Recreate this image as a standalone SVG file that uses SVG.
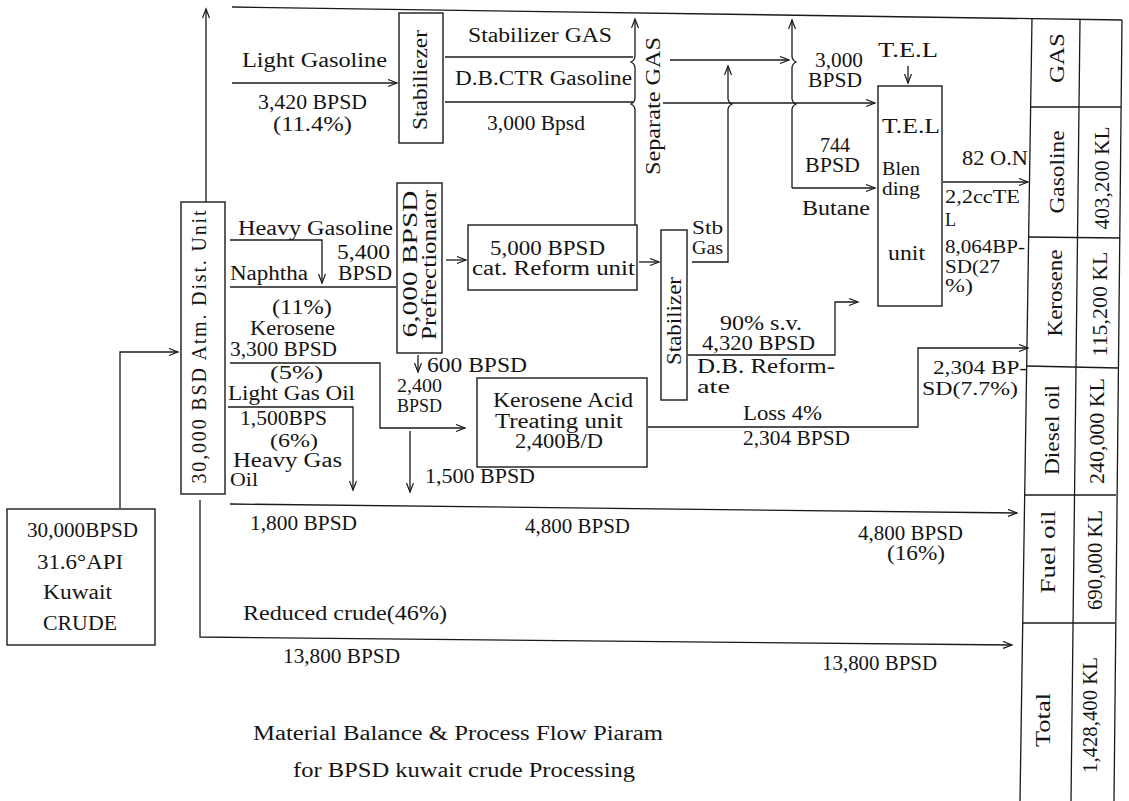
<svg xmlns="http://www.w3.org/2000/svg" width="1129" height="801" viewBox="0 0 1129 801">
<style>
text{font-family:"Liberation Serif","Times New Roman",serif;font-size:20px;fill:#151515}
.c{fill:none;stroke:#1a1a1a;stroke-width:1.3}
.a{marker-end:url(#ah)}
.b{fill:none;stroke:#1a1a1a;stroke-width:1.4}
.r{text-anchor:middle}
.s{font-size:18px}
</style>
<defs>
<marker id="ah" markerWidth="12" markerHeight="10" refX="10" refY="4" orient="auto" markerUnits="userSpaceOnUse">
<path d="M1,0.5 L10,4 L1,7.5" fill="none" stroke="#1a1a1a" stroke-width="1.2"/>
</marker>
</defs>
<rect width="1129" height="801" fill="#fff"/>

<g id="connectors">
<line class="c" x1="232" y1="7" x2="1122" y2="20"/>
<path class="c a" d="M206,202 L206,9"/>
<path class="c a" d="M120,508 L120,352 L178,352"/>
<path class="c a" d="M232,83 L397,83"/>
<path class="c" d="M445,57 L633,57"/>
<path class="c" d="M445,102 L633,102"/>
<path class="c a" d="M635,225 L635,110 q0,-4 -4,-6 q4,-2 4,-6 L635,68 q0,-4 -4,-6 q4,-2 4,-6 L635,19"/>
<path class="c a" d="M670,60 L789,60"/>
<path class="c a" d="M663,103 L875,103"/>
<path class="c a" d="M692,262 L728,262 L728,110 q0,-4 4,-6 q-4,-2 -4,-6 L728,66"/>
<path class="c a" d="M792,188 L792,110 q0,-4 4,-6 q-4,-2 -4,-6 L792,68 q0,-4 4,-6 q-4,-2 -4,-6 L792,20"/>
<path class="c a" d="M792,188 L875,188"/>
<path class="c a" d="M908,66 L908,83"/>
<path class="c a" d="M943,182 L1028,182"/>
<path class="c a" d="M230,240 L322,240 L322,283"/>
<path class="c" d="M230,287 L396,287"/>
<path class="c a" d="M446,260 L466,260"/>
<path class="c a" d="M639,262 L659,262"/>
<path class="c a" d="M688,355 L835,355 L835,302 L858,302"/>
<path class="c a" d="M230,363 L380,363 L380,428 L465,428"/>
<path class="c a" d="M418,355 L418,372"/>
<path class="c a" d="M410,431 L410,492"/>
<path class="c a" d="M228,407 L353,407 L353,490"/>
<path class="c a" d="M648,427 L918,427 L918,348 L1028,348"/>
<path class="c a" d="M230,504 L1017,513"/>
<path class="c a" d="M200,500 L200,637 L1012,645"/>
</g>

<g id="labels">
<text x="242" y="67" textLength="145" lengthAdjust="spacingAndGlyphs">Light Gasoline</text>
<text x="258" y="109" textLength="109" lengthAdjust="spacingAndGlyphs">3,420 BPSD</text>
<text x="273" y="131" textLength="79" lengthAdjust="spacingAndGlyphs">(11.4%)</text>
<text x="468" y="42" textLength="144" lengthAdjust="spacingAndGlyphs">Stabilizer GAS</text>
<text x="455" y="85" textLength="177" lengthAdjust="spacingAndGlyphs">D.B.CTR Gasoline</text>
<text x="487" y="130" textLength="98" lengthAdjust="spacingAndGlyphs">3,000 Bpsd</text>
<text class="r" transform="translate(653,106) rotate(-90)" dy="0.35em" textLength="138" lengthAdjust="spacingAndGlyphs">Separate GAS</text>
<text x="815" y="67" textLength="48" lengthAdjust="spacingAndGlyphs">3,000</text>
<text x="808" y="87" textLength="54" lengthAdjust="spacingAndGlyphs">BPSD</text>
<text x="878" y="57" textLength="60" lengthAdjust="spacingAndGlyphs">T.E.L</text>
<text x="820" y="152" textLength="30" lengthAdjust="spacingAndGlyphs">744</text>
<text x="805" y="172" textLength="55" lengthAdjust="spacingAndGlyphs">BPSD</text>
<text x="802" y="215" textLength="68" lengthAdjust="spacingAndGlyphs">Butane</text>
<text x="962" y="165" textLength="66" lengthAdjust="spacingAndGlyphs">82 O.N</text>
<text class="s" x="945" y="203" textLength="75" lengthAdjust="spacingAndGlyphs">2,2ccTE</text>
<text class="s" x="945" y="226">L</text>
<text class="s" x="945" y="253" textLength="80" lengthAdjust="spacingAndGlyphs">8,064BP-</text>
<text class="s" x="945" y="273" textLength="55" lengthAdjust="spacingAndGlyphs">SD(27</text>
<text class="s" x="945" y="292" textLength="28" lengthAdjust="spacingAndGlyphs">%)</text>
<text x="238" y="235" textLength="155" lengthAdjust="spacingAndGlyphs">Heavy Gasoline</text>
<text x="230" y="280" textLength="78" lengthAdjust="spacingAndGlyphs">Naphtha</text>
<text x="337" y="259" textLength="53" lengthAdjust="spacingAndGlyphs">5,400</text>
<text x="338" y="280" textLength="54" lengthAdjust="spacingAndGlyphs">BPSD</text>
<text x="272" y="314" textLength="60" lengthAdjust="spacingAndGlyphs">(11%)</text>
<text x="250" y="335" textLength="85" lengthAdjust="spacingAndGlyphs">Kerosene</text>
<text x="230" y="356" textLength="107" lengthAdjust="spacingAndGlyphs">3,300 BPSD</text>
<text class="s" x="270" y="379" textLength="53" lengthAdjust="spacingAndGlyphs">(5%)</text>
<text x="228" y="400" textLength="127" lengthAdjust="spacingAndGlyphs">Light Gas Oil</text>
<text x="240" y="425" textLength="87" lengthAdjust="spacingAndGlyphs">1,500BPS</text>
<text class="s" x="270" y="447" textLength="48" lengthAdjust="spacingAndGlyphs">(6%)</text>
<text x="233" y="467" textLength="109" lengthAdjust="spacingAndGlyphs">Heavy Gas</text>
<text class="s" x="230" y="486" textLength="28" lengthAdjust="spacingAndGlyphs">Oil</text>
<text x="427" y="372" textLength="100" lengthAdjust="spacingAndGlyphs">600 BPSD</text>
<text class="s" x="397" y="392" textLength="45" lengthAdjust="spacingAndGlyphs">2,400</text>
<text class="s" x="397" y="412" textLength="45" lengthAdjust="spacingAndGlyphs">BPSD</text>
<text x="425" y="483" textLength="110" lengthAdjust="spacingAndGlyphs">1,500 BPSD</text>
<text class="s" x="692" y="234" textLength="31" lengthAdjust="spacingAndGlyphs">Stb</text>
<text class="s" x="692" y="254" textLength="31" lengthAdjust="spacingAndGlyphs">Gas</text>
<text x="720" y="330" textLength="82" lengthAdjust="spacingAndGlyphs">90% s.v.</text>
<text x="702" y="350" textLength="113" lengthAdjust="spacingAndGlyphs">4,320 BPSD</text>
<text x="697" y="373" textLength="138" lengthAdjust="spacingAndGlyphs">D.B. Reform-</text>
<text class="s" x="697" y="393" textLength="33" lengthAdjust="spacingAndGlyphs">ate</text>
<text x="743" y="420" textLength="79" lengthAdjust="spacingAndGlyphs">Loss 4%</text>
<text x="743" y="445" textLength="107" lengthAdjust="spacingAndGlyphs">2,304 BPSD</text>
<text class="s" x="933" y="374" textLength="94" lengthAdjust="spacingAndGlyphs">2,304 BP-</text>
<text class="s" x="922" y="395" textLength="96" lengthAdjust="spacingAndGlyphs">SD(7.7%)</text>
<text x="250" y="530" textLength="107" lengthAdjust="spacingAndGlyphs">1,800 BPSD</text>
<text x="525" y="533" textLength="105" lengthAdjust="spacingAndGlyphs">4,800 BPSD</text>
<text x="858" y="540" textLength="105" lengthAdjust="spacingAndGlyphs">4,800 BPSD</text>
<text x="887" y="560" textLength="58" lengthAdjust="spacingAndGlyphs">(16%)</text>
<text x="243" y="620" textLength="204" lengthAdjust="spacingAndGlyphs">Reduced crude(46%)</text>
<text x="283" y="663" textLength="117" lengthAdjust="spacingAndGlyphs">13,800 BPSD</text>
<text x="822" y="670" textLength="115" lengthAdjust="spacingAndGlyphs">13,800 BPSD</text>
<text x="253" y="740" font-size="21" textLength="410" lengthAdjust="spacingAndGlyphs">Material Balance &amp; Process Flow Piaram</text>
<text x="293" y="777" font-size="21" textLength="342" lengthAdjust="spacingAndGlyphs">for BPSD kuwait crude Processing</text>
</g>

<g id="crude">
<rect class="b" x="7" y="509" width="148" height="136"/>
<text x="27" y="537" font-size="21" textLength="111" lengthAdjust="spacingAndGlyphs">30,000BPSD</text>
<text x="37" y="569" font-size="21" textLength="86" lengthAdjust="spacingAndGlyphs">31.6°API</text>
<text x="43" y="599" font-size="21" textLength="69" lengthAdjust="spacingAndGlyphs">Kuwait</text>
<text x="43" y="630" font-size="21" textLength="74" lengthAdjust="spacingAndGlyphs">CRUDE</text>
</g>

<g id="atm-dist-unit">
<rect class="b" x="181" y="202" width="44" height="292"/>
<text class="r" transform="translate(199,347) rotate(-90)" dy="0.35em" font-size="21" textLength="273" lengthAdjust="spacing">30,000 BSD Atm. Dist. Unit</text>
</g>

<g id="stabiliezer">
<rect class="b" x="399" y="13" width="44" height="130"/>
<text class="r" transform="translate(420,80) rotate(-90)" dy="0.35em" textLength="100" lengthAdjust="spacingAndGlyphs">Stabiliezer</text>
</g>

<g id="prefractionator">
<rect class="b" x="397" y="183" width="45" height="170"/>
<text class="r" transform="translate(410,264) rotate(-90)" dy="0.35em" font-size="21" textLength="147" lengthAdjust="spacingAndGlyphs">6,000 BPSD</text>
<text class="r" transform="translate(429,265) rotate(-90)" dy="0.35em" font-size="21" textLength="150" lengthAdjust="spacingAndGlyphs">Prefrectionator</text>
</g>

<g id="cat-reform">
<rect class="b" x="468" y="225" width="169" height="65"/>
<text x="490" y="255" textLength="115" lengthAdjust="spacingAndGlyphs">5,000 BPSD</text>
<text x="472" y="275" textLength="163" lengthAdjust="spacingAndGlyphs">cat. Reform unit</text>
</g>

<g id="stabilizer">
<rect class="b" x="661" y="230" width="26" height="170"/>
<text class="r" transform="translate(674,321) rotate(-90)" dy="0.35em" textLength="88" lengthAdjust="spacingAndGlyphs">Stabilizer</text>
</g>

<g id="kerosene-acid">
<rect class="b" x="477" y="378" width="170" height="89"/>
<text x="493" y="407" textLength="140" lengthAdjust="spacingAndGlyphs">Kerosene Acid</text>
<text x="495" y="428" textLength="128" lengthAdjust="spacingAndGlyphs">Treating unit</text>
<text x="515" y="448" textLength="88" lengthAdjust="spacingAndGlyphs">2,400B/D</text>
</g>

<g id="tel-blending">
<rect class="b" x="878" y="86" width="64" height="220"/>
<text x="882" y="133" textLength="58" lengthAdjust="spacingAndGlyphs">T.E.L</text>
<text class="s" x="882" y="175" textLength="38" lengthAdjust="spacingAndGlyphs">Blen</text>
<text class="s" x="882" y="195" textLength="38" lengthAdjust="spacingAndGlyphs">ding</text>
<text x="888" y="260" textLength="37" lengthAdjust="spacingAndGlyphs">unit</text>
</g>

<g id="product-table">
<line class="c" x1="1032" y1="18" x2="1020" y2="801"/>
<line class="c" x1="1080" y1="20" x2="1071" y2="801"/>
<line class="c" x1="1122" y1="20" x2="1114" y2="801"/>
<line class="c" x1="1031" y1="107" x2="1121" y2="107"/>
<line class="c" x1="1029" y1="237" x2="1120" y2="238"/>
<line class="c" x1="1027" y1="366" x2="1118" y2="368"/>
<line class="c" x1="1025" y1="495" x2="1116" y2="495"/>
<line class="c" x1="1023" y1="623" x2="1115" y2="623"/>
<text class="r" transform="translate(1057,58) rotate(-90)" dy="0.35em" textLength="50" lengthAdjust="spacingAndGlyphs">GAS</text>
<text class="r" transform="translate(1057,172) rotate(-90)" dy="0.35em" textLength="83" lengthAdjust="spacingAndGlyphs">Gasoline</text>
<text class="r" transform="translate(1055,293) rotate(-90)" dy="0.35em" textLength="87" lengthAdjust="spacingAndGlyphs">Kerosene</text>
<text class="r" transform="translate(1052,430) rotate(-90)" dy="0.35em" textLength="90" lengthAdjust="spacingAndGlyphs">Diesel oil</text>
<text class="r" transform="translate(1048,552) rotate(-90)" dy="0.35em" textLength="83" lengthAdjust="spacingAndGlyphs">Fuel oil</text>
<text class="r" transform="translate(1043,720) rotate(-90)" dy="0.35em" textLength="54" lengthAdjust="spacingAndGlyphs">Total</text>
<text class="r" transform="translate(1102,178) rotate(-90)" dy="0.35em" textLength="103" lengthAdjust="spacingAndGlyphs">403,200 KL</text>
<text class="r" transform="translate(1100,304) rotate(-90)" dy="0.35em" textLength="105" lengthAdjust="spacingAndGlyphs">115,200 KL</text>
<text class="r" transform="translate(1097,431) rotate(-90)" dy="0.35em" textLength="106" lengthAdjust="spacingAndGlyphs">240,000 KL</text>
<text class="r" transform="translate(1095,560) rotate(-90)" dy="0.35em" textLength="100" lengthAdjust="spacingAndGlyphs">690,000 KL</text>
<text class="r" transform="translate(1090,715) rotate(-90)" dy="0.35em" textLength="116" lengthAdjust="spacingAndGlyphs">1,428,400 KL</text>
</g>
</svg>
